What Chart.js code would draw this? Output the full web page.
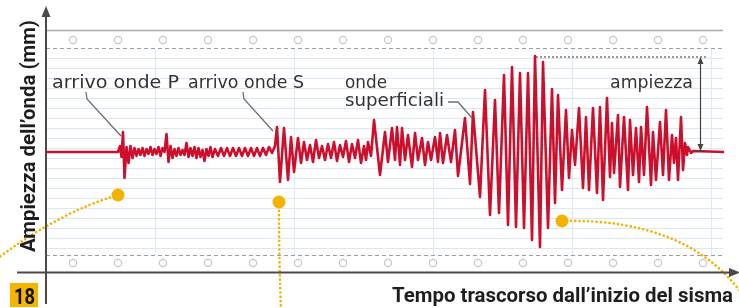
<!DOCTYPE html>
<html><head><meta charset="utf-8">
<script src="https://cdn.jsdelivr.net/npm/chart.js@4.4.1/dist/chart.umd.min.js"></script>
<style>html,body{margin:0;padding:0;background:#fff;overflow:hidden}canvas{display:block}</style>
</head><body>
<canvas id="c" width="739" height="308"></canvas>
<script>
const tempo = [0,7.2,7.4,7.55,7.7,7.85,8.05,8.25,8.45,8.65,8.85,9.05,9.25,9.45,9.65,9.85,10.05,10.25,10.45,10.65,10.85,11.05,11.25,11.45,11.65,11.85,12.05,12.25,12.45,12.65,12.85,13.05,13.25,13.45,13.65,13.85,14.05,14.25,14.45,14.65,14.85,15.05,15.25,15.45,15.65,15.85,16.05,16.25,16.45,16.65,16.9,17.2,17.5,17.8,18.1,18.4,18.7,19.0,19.3,19.6,19.9,20.2,20.5,20.8,21.1,21.4,21.7,22.0,22.3,22.6,22.9,
23.1,23.4,23.8,24.2,24.5,24.8,25.2,25.5,25.8,26.1,26.4,26.7,27.0,27.3,27.6,27.9,28.2,28.5,28.8,29.1,29.4,29.7,30.0,30.3,30.6,30.9,31.2,31.5,31.8,32.0,32.2,32.5,
32.8,33.4,33.9,34.2,34.6,34.9,35.1,35.4,35.6,35.9,36.2,36.6,36.9,37.2,37.6,37.9,38.2,38.5,38.9,39.2,39.4,39.7,40.1,40.5,
40.9,41.2,41.9,42.4,42.7,43.4,43.9,44.4,44.9,45.3,45.8,46.2,46.6,47.0,47.4,47.8,48.2,48.6,48.9,49.4,49.7,50.2,50.6,50.9,51.2,51.6,52.0,52.3,52.6,52.9,
53.3,53.7,54.0,54.3,54.7,55.1,55.4,55.7,56.1,56.4,56.6,56.8,57.2,57.4,57.8,58.2,58.4,58.7,59.0,59.3,59.5,59.8,60.1,60.5,60.7,61.0,61.4,61.7,62.0,62.3,62.6,62.8,63.0,63.2,63.5,63.7,63.9,64.1,64.2,64.5,64.7,67.8];
const ampiezza = [0,0,0.6,-0.5,2.0,-2.6,0.5,-1.1,0.6,-0.6,0.4,-0.4,0.3,-0.3,0.4,-0.4,0.3,-0.2,0.5,-0.3,0.3,-0.2,0.5,-0.4,0.4,0,1.8,-1.0,0.6,-0.6,0.3,-0.4,0.4,-0.3,0.2,-0.3,0.9,-0.5,0.4,-0.4,0.5,-0.6,0.4,-0.5,0.2,-0.9,0.3,-0.4,0.5,-0.5,0.3,-0.4,0.4,-0.4,0.4,-0.4,0.4,-0.4,0.4,-0.4,0.4,-0.4,0.4,-0.4,0.4,-0.4,0.4,-0.3,0.5,-0.1,0.6,
2.5,-3.0,2.4,-2.8,1.5,-2.0,1.4,-1.1,1.0,-0.8,0.7,-1.0,1.2,-0.6,0.6,-0.8,0.8,-0.6,1.0,-0.9,0.7,-0.5,1.1,-1.0,0.8,-0.6,1.2,-1.1,0.6,-0.8,1.0,-0.4,
3.2,-2.3,2.0,-1.0,2.4,-0.8,2.5,-1.3,2.4,-0.8,1.7,-1.5,1.9,-0.8,1.4,-1.3,1.0,-0.8,1.5,-1.0,1.9,-1.1,1.7,-1.0,
2.2,-2.4,3.4,-3.2,4.0,-4.5,6.2,-6.3,5.2,-6.1,7.7,-7.3,8.5,-7.5,7.9,-7.6,7.9,-8.8,9.6,-9.5,9.0,-7.6,6.3,-5.1,5.7,-3.8,4.2,-2.6,2.2,-1.3,
4.4,-3.6,3.5,-3.8,4.4,-4.1,4.5,-4.8,5.4,-2.5,2.9,-2.1,3.7,-3.5,3.5,-3.8,3.2,-2.3,2.4,-3.0,2.5,-2.3,4.5,-3.3,2.0,-2.8,3.0,-2.3,4.2,-2.8,1.7,-1.1,1.4,-2.8,3.5,-1.8,0.9,-0.3,0.5,-0.1,0.1,0];

const titoloY = 'Ampiezza dell’onda (mm)';
const titoloX = 'Tempo trascorso dall’inizio del sisma';
const etichettaP = 'arrivo onde P';
const etichettaS = 'arrivo onde S';
const etichettaSup = ['onde', 'superficiali'];
const etichettaAmp = 'ampiezza';
const numeroPagina = '18';

function fitText(ctx, text, x, y, font, width, color) {
  ctx.save();
  ctx.font = font;
  ctx.fillStyle = color;
  ctx.textAlign = 'left';
  ctx.textBaseline = 'alphabetic';
  const w = ctx.measureText(text).width;
  ctx.translate(x, y);
  ctx.scale(width / w, 1);
  ctx.fillText(text, 0, 0);
  ctx.restore();
}
function line(ctx, pts, color, w, dash) {
  ctx.save();
  ctx.strokeStyle = color; ctx.lineWidth = w;
  ctx.setLineDash(dash || []);
  ctx.beginPath();
  pts.forEach((p, i) => i ? ctx.lineTo(p[0], p[1]) : ctx.moveTo(p[0], p[1]));
  ctx.stroke();
  ctx.restore();
}
function tri(ctx, pts, color) {
  ctx.save(); ctx.fillStyle = color; ctx.beginPath();
  ctx.moveTo(pts[0][0], pts[0][1]); ctx.lineTo(pts[1][0], pts[1][1]); ctx.lineTo(pts[2][0], pts[2][1]);
  ctx.closePath(); ctx.fill(); ctx.restore();
}
function dottedCurve(ctx, p0, c, p1, dot) {
  ctx.save();
  ctx.strokeStyle = '#f2b300'; ctx.lineWidth = 2.6; ctx.lineCap = 'round';
  ctx.setLineDash([0.1, 4.2]);
  ctx.beginPath(); ctx.moveTo(p0[0], p0[1]); ctx.quadraticCurveTo(c[0], c[1], p1[0], p1[1]); ctx.stroke();
  ctx.setLineDash([]);
  ctx.fillStyle = '#f2b300';
  ctx.beginPath(); ctx.arc(dot[0], dot[1], 6.5, 0, Math.PI * 2); ctx.fill();
  ctx.restore();
}

const sfondo = {
  id: 'sfondo',
  beforeDatasetsDraw(chart) {
    const ctx = chart.ctx;
    for (let i = 0; i < 20; i++) {
      const y = 58 + i * 10 + 0.5;
      line(ctx, [[46, y], [723, y]], '#dce7f1', 1);
    }
    [155, 294, 433, 572, 711].forEach(x => line(ctx, [[x + 0.5, 49], [x + 0.5, 255]], '#dfe9f1', 1));
    line(ctx, [[46, 30.5], [723, 30.5]], '#a8a8a8', 1.5);
    line(ctx, [[46, 48.5], [722, 48.5]], '#9e9e9e', 1.2, [4, 3]);
    line(ctx, [[46, 255.5], [722, 255.5]], '#9e9e9e', 1.2, [4, 3]);
    ctx.save();
    ctx.strokeStyle = '#c6c6c6'; ctx.lineWidth = 1.2; ctx.fillStyle = '#fff';
    for (let k = 0; k < 15; k++) {
      const x = 73 + 45 * k;
      [40, 263].forEach(y => { ctx.beginPath(); ctx.arc(x, y, 3.6, 0, Math.PI * 2); ctx.fill(); ctx.stroke(); });
    }
    ctx.restore();
  },
  afterDatasetsDraw(chart) {
    const ctx = chart.ctx;
    const X = v => chart.scales.x.getPixelForValue(v);
    const Y = v => chart.scales.y.getPixelForValue(v);
    const txt = '#333333';
    const f = '17px "DejaVu Sans"';
    fitText(ctx, etichettaP, 52, 88, f, 127, txt);
    fitText(ctx, etichettaS, 188, 88, f, 116, txt);
    fitText(ctx, etichettaSup[0], 345, 88, f, 42, txt);
    fitText(ctx, etichettaSup[1], 345, 106, f, 99, txt);
    fitText(ctx, etichettaAmp, 610, 88, f, 83, txt);
    const lc = '#6e6e6e';
    line(ctx, [[86, 92], [87, 99], [X(7.5), Y(1.6)]], lc, 1.3);
    line(ctx, [[243, 92], [244, 99], [X(22.7), Y(2.1)]], lc, 1.3);
    line(ctx, [[448, 102], [458, 102], [X(42.6), Y(3.4)]], lc, 1.3);
    line(ctx, [[X(49.0), Y(9.5)], [706, Y(9.5)]], '#555', 1.2, [2, 2]);
    line(ctx, [[700.5, Y(9.5) + 4], [700.5, Y(0) - 3]], '#444', 1.2);
    tri(ctx, [[700.5, Y(9.5)], [697.5, Y(9.5) + 7], [703.5, Y(9.5) + 7]], '#444');
    tri(ctx, [[700.5, Y(0) - 1], [697.5, Y(0) - 8], [703.5, Y(0) - 8]], '#444');
    line(ctx, [[696, Y(0) - 1], [705, Y(0) - 1]], '#444', 1.2);
    dottedCurve(ctx, [118, 195], [60, 212], [-2, 258], [118, 195]);
    dottedCurve(ctx, [279, 202], [279, 262], [281, 310], [279, 202]);
    dottedCurve(ctx, [562, 221], [690, 218], [745, 298], [562, 221]);
    const ax = '#4a4a4a';
    line(ctx, [[46, 304], [46, 14]], ax, 2);
    tri(ctx, [[46, 6], [41.5, 17], [50.5, 17]], ax);
    line(ctx, [[17, 272.5], [731, 272.5]], ax, 2);
    tri(ctx, [[740, 272.5], [729, 268], [729, 277]], ax);
    ctx.save();
    ctx.translate(35, 252);
    ctx.rotate(-Math.PI / 2);
    fitText(ctx, titoloY, 0, 0, 'bold 21px Roboto', 232, '#1e1e1e');
    ctx.restore();
    fitText(ctx, titoloX, 392, 302, 'bold 20px Roboto', 341, '#1e1e1e');
    ctx.save(); ctx.fillStyle = '#f5b400'; ctx.fillRect(10, 283, 28, 24); ctx.restore();
    fitText(ctx, numeroPagina, 14, 304, 'bold 22px Roboto', 21, '#111');
  }
};

new Chart(document.getElementById('c'), {
  type: 'line',
  data: {
    datasets: [{
      data: tempo.map((t, i) => ({ x: t, y: ampiezza[i] })),
      borderColor: '#cc0f2c',
      borderWidth: 2.6,
      pointRadius: 0,
      tension: 0,
      fill: false,
      borderJoinStyle: 'round'
    }]
  },
  options: {
    responsive: false,
    animation: false,
    events: [],
    layout: { padding: { left: 46, right: 15, top: 30, bottom: 36 } },
    plugins: { legend: { display: false }, tooltip: { enabled: false } },
    scales: {
      x: { type: 'linear', min: 0, max: 67.8, display: false },
      y: { type: 'linear', min: -12.0, max: 12.2, display: false }
    }
  },
  plugins: [sfondo]
});
</script>
</body></html>
